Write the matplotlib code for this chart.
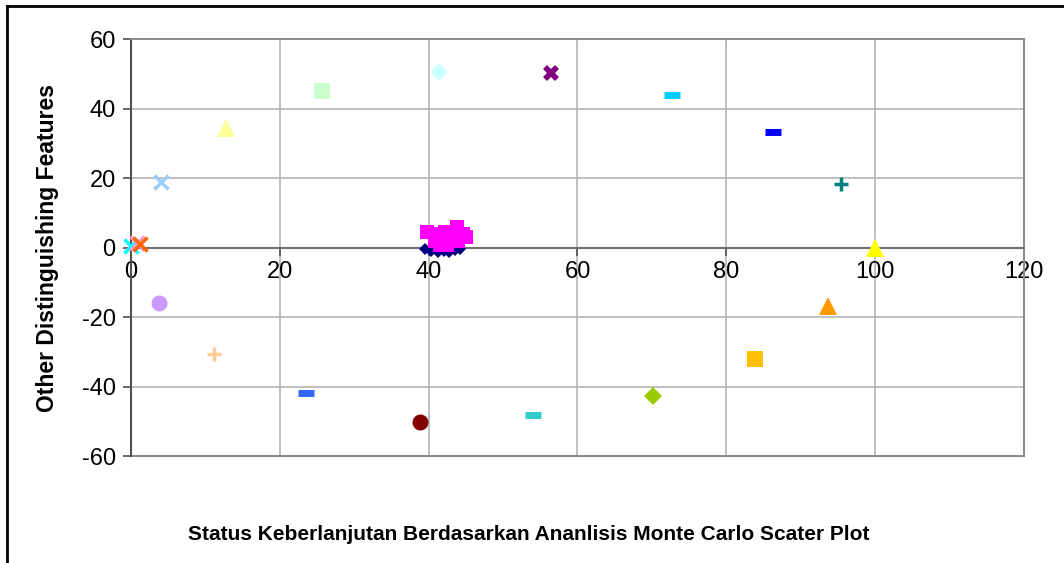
import matplotlib
matplotlib.use("Agg")
import matplotlib.pyplot as plt
from matplotlib.lines import Line2D

plt.rcParams['font.family'] = ['Liberation Sans', 'DejaVu Sans']
plt.rcParams['axes.unicode_minus'] = False

# titik tunggal: x, y, marker, warna
titik_x = [0.0, 0.8, 1.2, 4.0, 3.7, 12.8, 25.7, 41.4, 56.5, 72.7, 86.3,
           95.4, 100.0, 93.7, 83.9, 70.2, 54.0, 38.8, 23.5, 11.2]
titik_y = [0.5, 1.2, 1.0, 18.8, -16.0, 34.4, 45.0, 50.5, 50.2, 43.9, 33.2,
           18.3, 0.0, -16.8, -32.0, -42.7, -48.2, -50.2, -41.9, -30.6]
titik_marker = ['x', 'x', 'x', 'x', 'o', '^', 's', 'D', 'X', '_', '_',
                '+', '^', '^', 's', 'D', '_', 'o', '_', '+']
titik_warna = ['#00FFFF', '#FF99CC', '#FF6600', '#99CCFF', '#CC99FF', '#FFFF99',
               '#CCFFCC', '#CCFFFF', '#800080', '#00CCFF', '#0000FF', '#008080',
               '#FFFF00', '#FF9900', '#FFC000', '#99CC00', '#33CCCC', '#800000',
               '#3366FF', '#FFCC99']

# hasil monte carlo (berkumpul di tengah)
mc_x = [39.8, 41.0, 42.2, 43.8, 44.6, 45.0, 40.8, 41.8, 43.0, 44.0, 41.5, 42.5]
mc_y = [4.5, 4.0, 4.5, 5.8, 4.0, 3.0, 2.0, 1.5, 2.5, 2.0, 0.8, 0.8]
navy_x = [39.5, 40.3, 41.2, 42.0, 42.8, 43.5, 44.2]
navy_y = [-0.5, -1.0, -1.3, -1.0, -1.4, -0.8, -0.3]

xticks = [0, 20, 40, 60, 80, 100, 120]
yticks = [-60, -40, -20, 0, 20, 40, 60]

fig = plt.figure(figsize=(10.64, 5.63), dpi=100)
ax = fig.add_axes([0.1231, 0.19, 0.8393, 0.7407])

ax.set_xlim(0, 120)
ax.set_ylim(-60, 60)
ax.set_xticks(xticks)
ax.set_yticks(yticks)
ax.grid(True, color='#B4B4B4', linewidth=1.2)
ax.set_axisbelow(True)

for s in ['top', 'right']:
    ax.spines[s].set_color('#8C8C8C')
    ax.spines[s].set_linewidth(1.5)
ax.spines['bottom'].set_position(('data', 0))
ax.spines['bottom'].set_color('#707070')
ax.spines['bottom'].set_linewidth(1.5)
ax.spines['left'].set_color('#505050')
ax.spines['left'].set_linewidth(1.5)
ax.axhline(-60, color='#8C8C8C', linewidth=1.5, clip_on=False)

ax.tick_params(axis='both', labelsize=17, direction='out', length=6,
               color='#505050', width=1.2)
ax.tick_params(axis='x', pad=4)
ax.tick_params(axis='y', pad=5)

for x, y, m, c in zip(titik_x, titik_y, titik_marker, titik_warna):
    if m == '_':
        ax.plot(x, y, marker=m, color=c, markersize=11, markeredgewidth=5,
                linestyle='none', clip_on=False, zorder=3)
    elif m in ('x', '+'):
        ax.plot(x, y, marker=m, color=c, markersize=10, markeredgewidth=2.5,
                linestyle='none', clip_on=False, zorder=3)
    elif m == 'X':
        ax.plot(x, y, marker=m, color=c, markersize=11, markeredgewidth=0,
                linestyle='none', clip_on=False, zorder=3)
    else:
        ukuran = {'D': 9, '^': 12.5, 'o': 11.5, 's': 11}[m]
        ax.plot(x, y, marker=m, color=c, markersize=ukuran,
                markeredgewidth=0, linestyle='none', clip_on=False, zorder=3)

ax.plot(navy_x, navy_y, 'D', color='#000080', markersize=6,
        markeredgewidth=0, zorder=3)
ax.plot(mc_x, mc_y, 's', color='#FF00FF', markersize=10.5,
        markeredgewidth=0, zorder=4)

ax.set_ylabel('Other Distinguishing Features', fontsize=16.5, fontweight='bold',
              labelpad=16)
fig.text(0.497, 0.05, 'Status Keberlanjutan Berdasarkan Ananlisis Monte Carlo Scater Plot',
         ha='center', va='center', fontsize=15, fontweight='bold')

# bingkai luar
fig.add_artist(Line2D([0.0066, 1.0], [0.989, 0.989], color='black', linewidth=2))
fig.add_artist(Line2D([0.0066, 0.0066], [0.0, 0.989], color='black', linewidth=2))

fig.savefig('out.png', dpi=100)
